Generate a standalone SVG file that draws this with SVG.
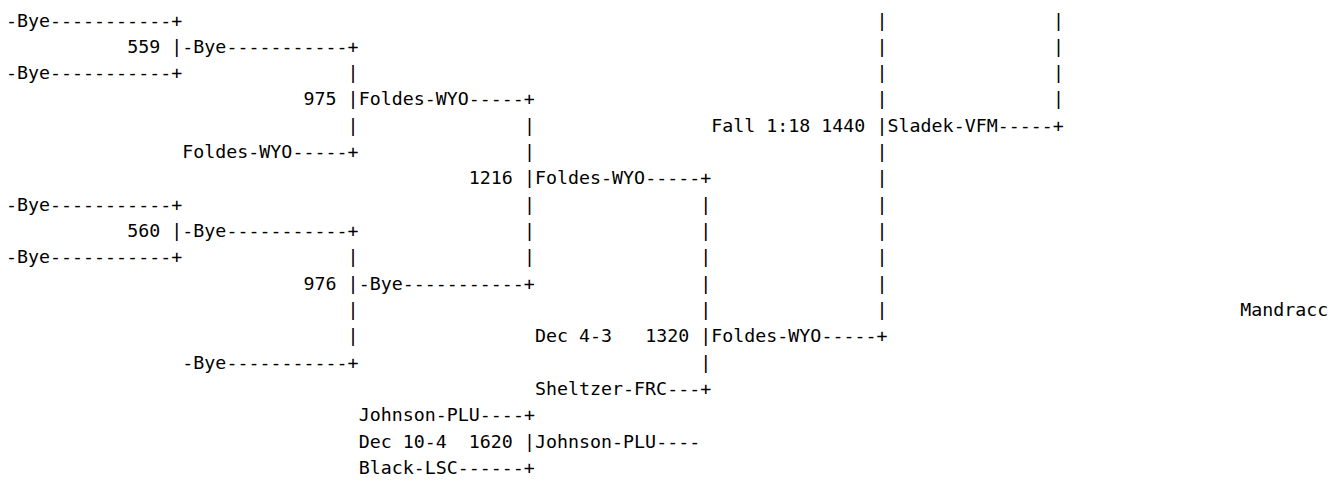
<svg xmlns="http://www.w3.org/2000/svg" width="1341" height="481" viewBox="0 0 1341 481">
<style>
text{font-family:"DejaVu Sans Mono","Liberation Mono",monospace;font-size:18.3px;fill:#000;white-space:pre}
</style>
<rect width="1341" height="481" fill="#fff"/>
<g id="nodes">
<g id="n-bye-r0"><text x="6" y="26.5">-Bye</text></g>
<g id="n-m559"><text x="127.22" y="52.82">559</text><text x="182.32" y="52.82">-Bye</text></g>
<g id="n-bye-r2"><text x="6" y="79.14">-Bye</text></g>
<g id="n-m975"><text x="303.54" y="105.46">975</text><text x="358.64" y="105.46">Foldes-WYO</text></g>
<g id="n-m1440"><text x="711.28" y="131.78" xml:space="preserve">Fall 1:18 1440</text><text x="887.6" y="131.78">Sladek-VFM</text></g>
<g id="n-foldes-r5"><text x="182.32" y="158.1">Foldes-WYO</text></g>
<g id="n-m1216"><text x="468.84" y="184.42">1216</text><text x="534.96" y="184.42">Foldes-WYO</text></g>
<g id="n-bye-r7"><text x="6" y="210.74">-Bye</text></g>
<g id="n-m560"><text x="127.22" y="237.06">560</text><text x="182.32" y="237.06">-Bye</text></g>
<g id="n-bye-r9"><text x="6" y="263.38">-Bye</text></g>
<g id="n-m976"><text x="303.54" y="289.7">976</text><text x="358.64" y="289.7">-Bye</text></g>
<g id="n-mandracc"><text x="1240.24" y="316.02">Mandracc</text></g>
<g id="n-m1320"><text x="534.96" y="342.34" xml:space="preserve">Dec 4-3</text><text x="645.16" y="342.34">1320</text><text x="711.28" y="342.34">Foldes-WYO</text></g>
<g id="n-bye-r13"><text x="182.32" y="368.66">-Bye</text></g>
<g id="n-sheltzer"><text x="534.96" y="394.98">Sheltzer-FRC</text></g>
<g id="n-johnson"><text x="358.64" y="421.3">Johnson-PLU</text></g>
<g id="n-m1620"><text x="358.64" y="447.62" xml:space="preserve">Dec 10-4</text><text x="468.84" y="447.62">1620</text><text x="534.96" y="447.62">Johnson-PLU</text></g>
<g id="n-black"><text x="358.64" y="473.94">Black-LSC</text></g>
</g>
<g id="connectors">
<text x="50.08" y="26.5">-----------+</text><text x="876.58" y="26.5">|</text><text x="1052.9" y="26.5">|</text>
<text x="171.3" y="52.82">|</text><text x="226.4" y="52.82">-----------+</text><text x="876.58" y="52.82">|</text><text x="1052.9" y="52.82">|</text>
<text x="50.08" y="79.14">-----------+</text><text x="347.62" y="79.14">|</text><text x="876.58" y="79.14">|</text><text x="1052.9" y="79.14">|</text>
<text x="347.62" y="105.46">|</text><text x="468.84" y="105.46">-----+</text><text x="876.58" y="105.46">|</text><text x="1052.9" y="105.46">|</text>
<text x="347.62" y="131.78">|</text><text x="523.94" y="131.78">|</text><text x="876.58" y="131.78">|</text><text x="997.8" y="131.78">-----+</text>
<text x="292.52" y="158.1">-----+</text><text x="523.94" y="158.1">|</text><text x="876.58" y="158.1">|</text>
<text x="523.94" y="184.42">|</text><text x="645.16" y="184.42">-----+</text><text x="876.58" y="184.42">|</text>
<text x="50.08" y="210.74">-----------+</text><text x="523.94" y="210.74">|</text><text x="700.26" y="210.74">|</text><text x="876.58" y="210.74">|</text>
<text x="171.3" y="237.06">|</text><text x="226.4" y="237.06">-----------+</text><text x="523.94" y="237.06">|</text><text x="700.26" y="237.06">|</text><text x="876.58" y="237.06">|</text>
<text x="50.08" y="263.38">-----------+</text><text x="347.62" y="263.38">|</text><text x="523.94" y="263.38">|</text><text x="700.26" y="263.38">|</text><text x="876.58" y="263.38">|</text>
<text x="347.62" y="289.7">|</text><text x="402.72" y="289.7">-----------+</text><text x="700.26" y="289.7">|</text><text x="876.58" y="289.7">|</text>
<text x="347.62" y="316.02">|</text><text x="700.26" y="316.02">|</text><text x="876.58" y="316.02">|</text>
<text x="347.62" y="342.34">|</text><text x="700.26" y="342.34">|</text><text x="821.48" y="342.34">-----+</text>
<text x="226.4" y="368.66">-----------+</text><text x="700.26" y="368.66">|</text>
<text x="667.2" y="394.98">---+</text>
<text x="479.86" y="421.3">----+</text>
<text x="523.94" y="447.62">|</text><text x="656.18" y="447.62">----</text>
<text x="457.82" y="473.94">------+</text>
</g>
</svg>
